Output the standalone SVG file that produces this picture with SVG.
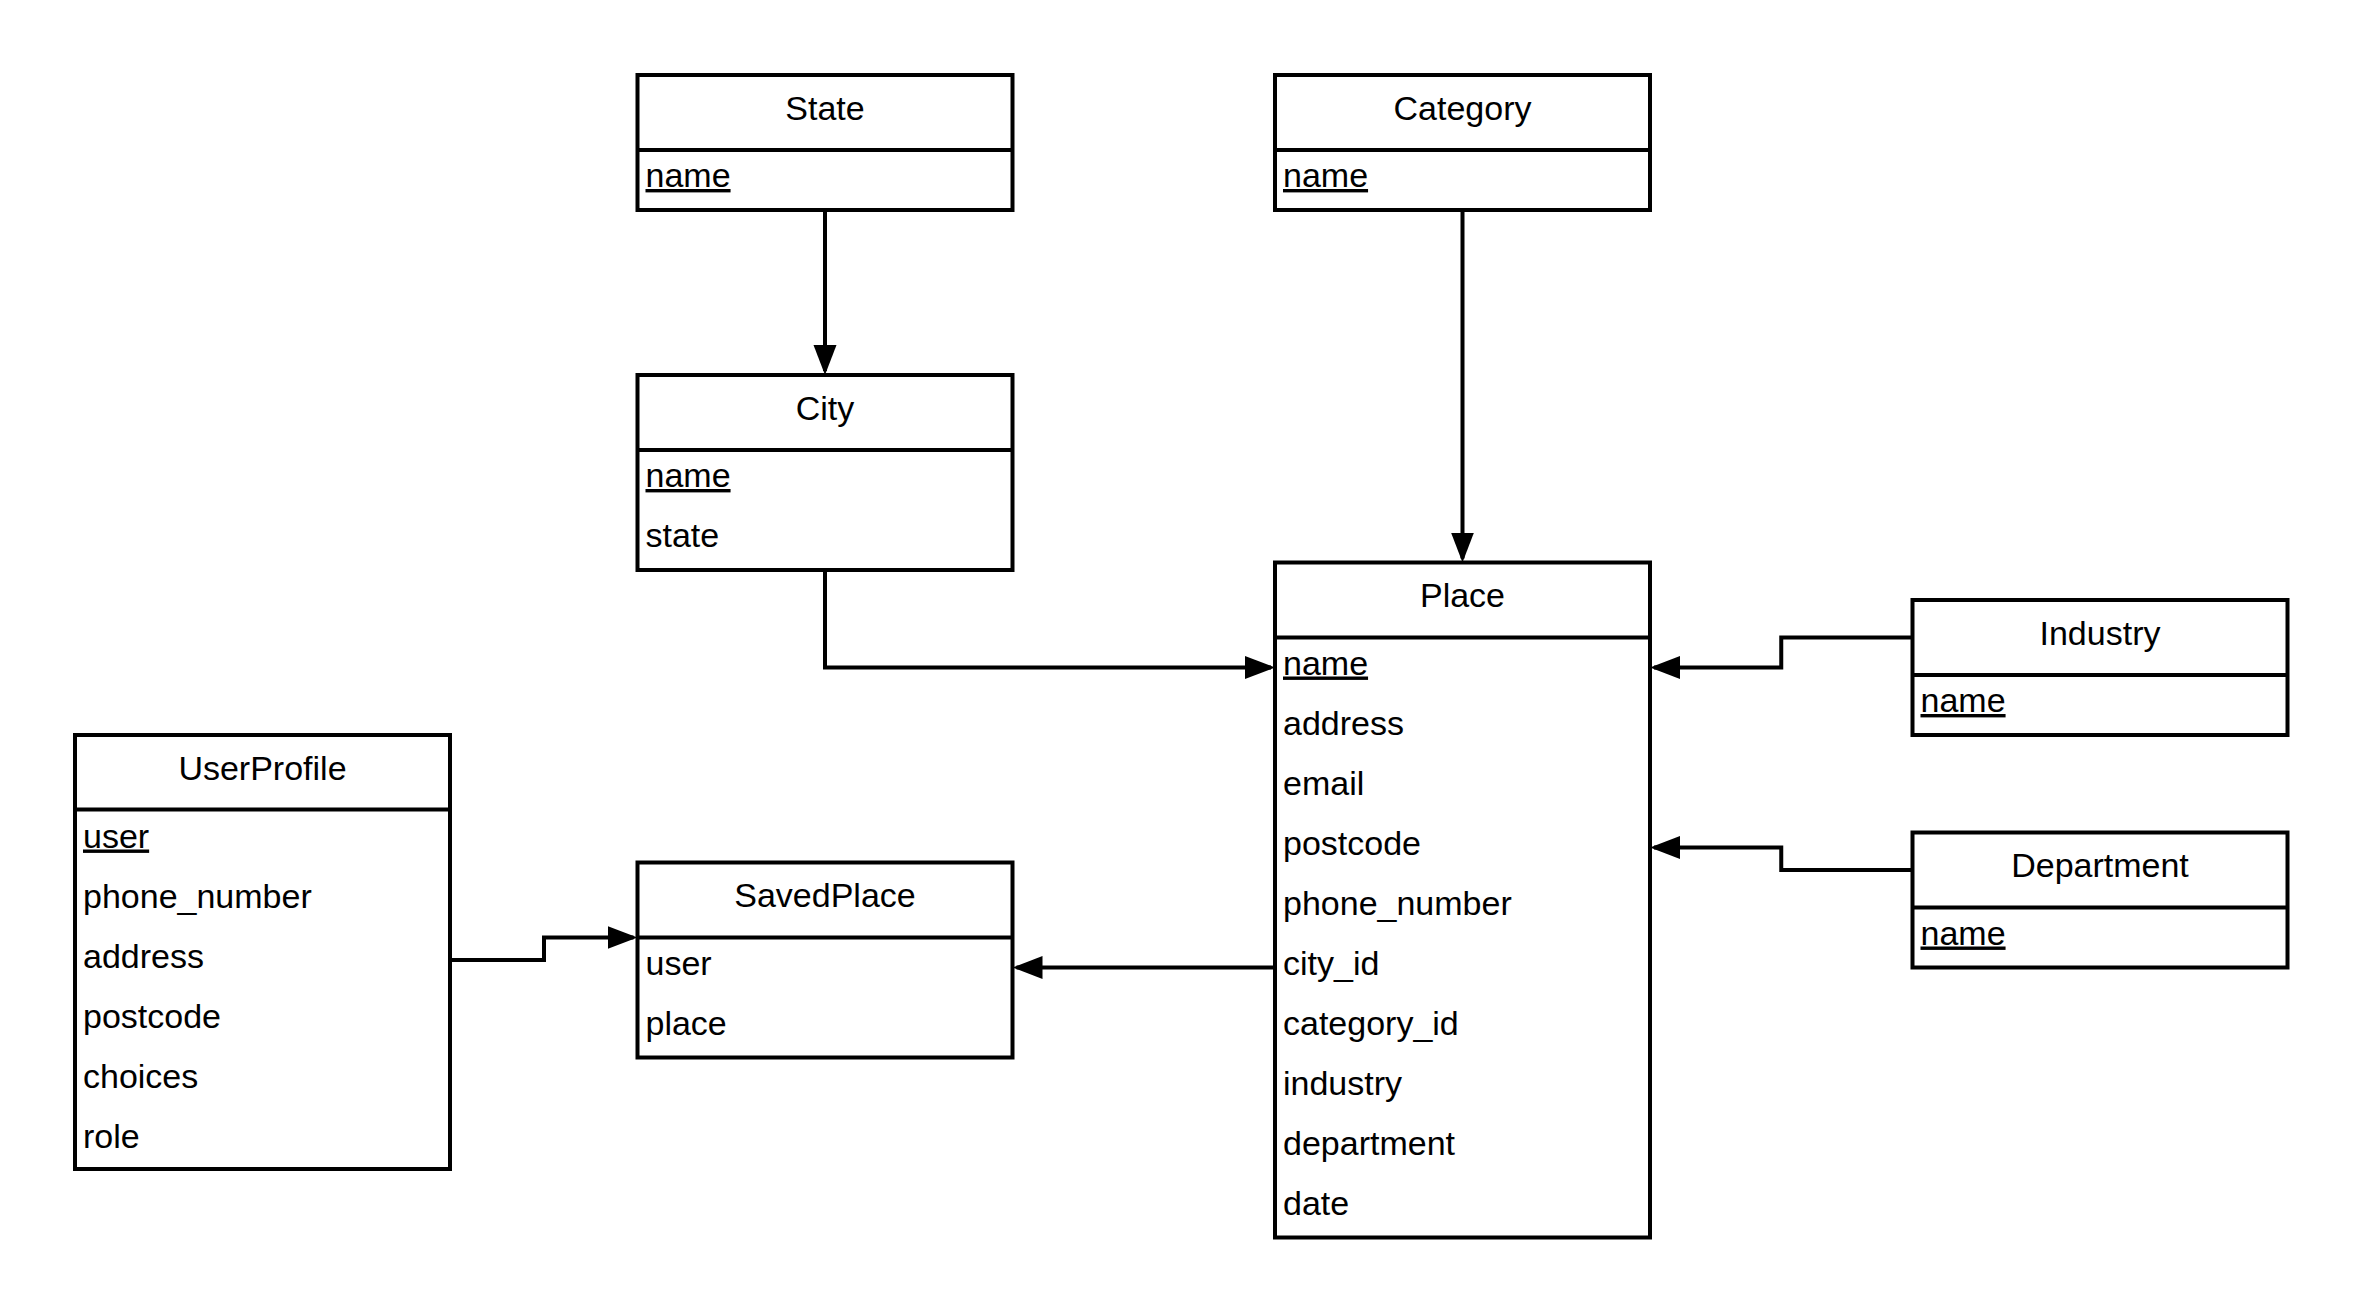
<svg xmlns="http://www.w3.org/2000/svg" width="2363" height="1313" viewBox="0 0 2363 1313">
<style>
.box{fill:#fff;stroke:#000;stroke-width:4}
.div{stroke:#000;stroke-width:4}
.t{font-family:"Liberation Sans",Arial,sans-serif;font-size:34px;fill:#000}
.h{text-anchor:middle}
.u{text-decoration:underline}
.c{fill:none;stroke:#000;stroke-width:4}
</style>
<defs>
<marker id="arr" markerUnits="userSpaceOnUse" markerWidth="32" markerHeight="24" refX="26" refY="11.5" orient="auto">
<path d="M0,0 L30,11.5 L0,23 Z" fill="#000"/>
</marker>
</defs>
<rect width="2363" height="1313" fill="#fff"/>
<g id="connectors">
<path class="c" d="M825,210 V371" marker-end="url(#arr)"/>
<path class="c" d="M1462.5,210 V558.5" marker-end="url(#arr)"/>
<path class="c" d="M825,570 V667.5 H1271" marker-end="url(#arr)"/>
<path class="c" d="M1912.5,637.5 H1781.25 V667.5 H1654" marker-end="url(#arr)"/>
<path class="c" d="M1912.5,870 H1781.25 V847.5 H1654" marker-end="url(#arr)"/>
<path class="c" d="M1275,967.5 H1016.5" marker-end="url(#arr)"/>
<path class="c" d="M450,960 H544 V937.5 H633.5" marker-end="url(#arr)"/>
</g>
<g id="State">
<rect class="box" x="637.5" y="75" width="375" height="135"/>
<line class="div" x1="637.5" y1="150" x2="1012.5" y2="150"/>
<text class="t h" x="825" y="119.5">State</text>
<text class="t u" x="645.5" y="187">name</text>
</g>
<g id="Category">
<rect class="box" x="1275" y="75" width="375" height="135"/>
<line class="div" x1="1275" y1="150" x2="1650" y2="150"/>
<text class="t h" x="1462.5" y="119.5">Category</text>
<text class="t u" x="1283" y="187">name</text>
</g>
<g id="City">
<rect class="box" x="637.5" y="375" width="375" height="195"/>
<line class="div" x1="637.5" y1="450" x2="1012.5" y2="450"/>
<text class="t h" x="825" y="419.5">City</text>
<text class="t u" x="645.5" y="487">name</text>
<text class="t" x="645.5" y="547">state</text>
</g>
<g id="Place">
<rect class="box" x="1275" y="562.5" width="375" height="675"/>
<line class="div" x1="1275" y1="637.5" x2="1650" y2="637.5"/>
<text class="t h" x="1462.5" y="607">Place</text>
<text class="t u" x="1283" y="674.5">name</text>
<text class="t" x="1283" y="734.5">address</text>
<text class="t" x="1283" y="794.5">email</text>
<text class="t" x="1283" y="854.5">postcode</text>
<text class="t" x="1283" y="914.5">phone_number</text>
<text class="t" x="1283" y="974.5">city_id</text>
<text class="t" x="1283" y="1034.5">category_id</text>
<text class="t" x="1283" y="1094.5">industry</text>
<text class="t" x="1283" y="1154.5">department</text>
<text class="t" x="1283" y="1214.5">date</text>
</g>
<g id="Industry">
<rect class="box" x="1912.5" y="600" width="375" height="135"/>
<line class="div" x1="1912.5" y1="675" x2="2287.5" y2="675"/>
<text class="t h" x="2100" y="644.5">Industry</text>
<text class="t u" x="1920.5" y="712">name</text>
</g>
<g id="Department">
<rect class="box" x="1912.5" y="832.5" width="375" height="135"/>
<line class="div" x1="1912.5" y1="907.5" x2="2287.5" y2="907.5"/>
<text class="t h" x="2100" y="877">Department</text>
<text class="t u" x="1920.5" y="944.5">name</text>
</g>
<g id="UserProfile">
<rect class="box" x="75" y="735" width="375" height="434"/>
<line class="div" x1="75" y1="809.5" x2="450" y2="809.5"/>
<text class="t h" x="262.5" y="780">UserProfile</text>
<text class="t u" x="83" y="847.5">user</text>
<text class="t" x="83" y="907.5">phone_number</text>
<text class="t" x="83" y="967.5">address</text>
<text class="t" x="83" y="1027.5">postcode</text>
<text class="t" x="83" y="1087.5">choices</text>
<text class="t" x="83" y="1147.5">role</text>
</g>
<g id="SavedPlace">
<rect class="box" x="637.5" y="862.5" width="375" height="195"/>
<line class="div" x1="637.5" y1="937.5" x2="1012.5" y2="937.5"/>
<text class="t h" x="825" y="907">SavedPlace</text>
<text class="t" x="645.5" y="974.5">user</text>
<text class="t" x="645.5" y="1034.5">place</text>
</g>
</svg>
